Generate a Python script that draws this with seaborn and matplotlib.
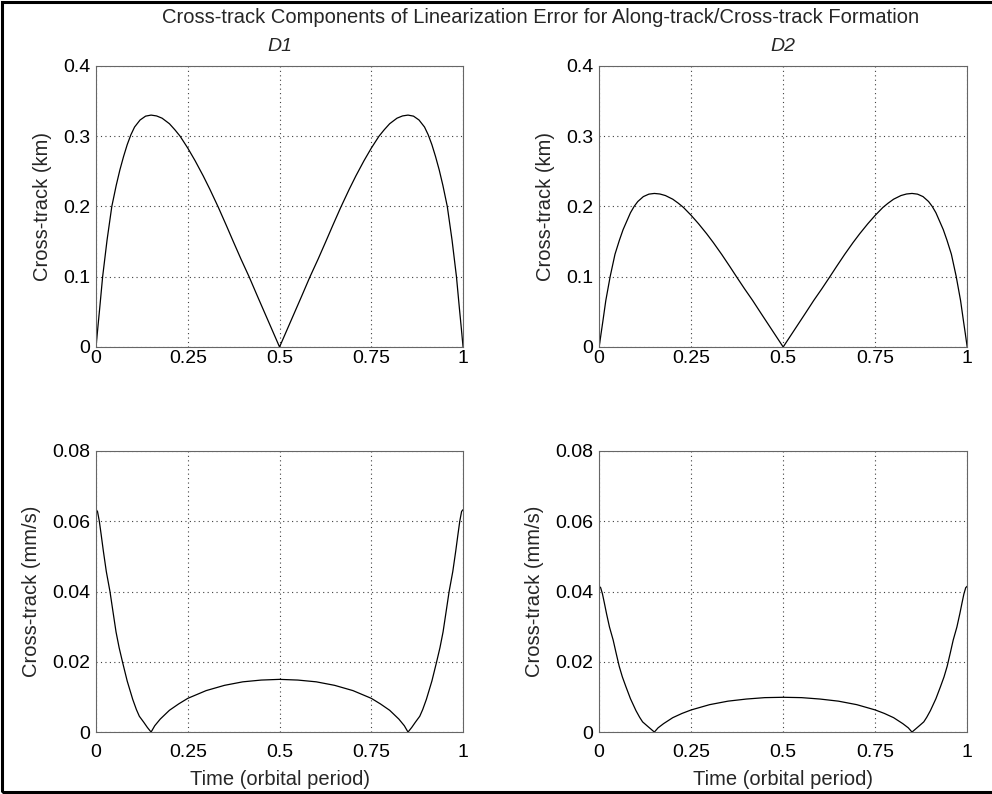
import matplotlib
matplotlib.use("Agg")
import matplotlib.pyplot as plt
import seaborn as sns

# time axis (orbital period) for the position plots
pos_t = [0, 0.005, 0.01, 0.018, 0.03, 0.043, 0.055, 0.065, 0.075, 0.085, 0.095, 0.105,
         0.12, 0.135, 0.15, 0.165, 0.18, 0.2, 0.215, 0.229, 0.25, 0.27, 0.292, 0.31,
         0.333, 0.355, 0.374, 0.395, 0.417, 0.44, 0.46, 0.48, 0.5,
         0.52, 0.54, 0.56, 0.583, 0.605, 0.626, 0.645, 0.667, 0.69, 0.708, 0.73, 0.75,
         0.771, 0.785, 0.8, 0.82, 0.835, 0.85, 0.865, 0.88, 0.895, 0.905, 0.915, 0.925,
         0.935, 0.945, 0.957, 0.97, 0.982, 0.99, 0.995, 1.0]

pos_d1 = [0, 0.028, 0.055, 0.1, 0.152, 0.2, 0.23, 0.252, 0.271, 0.288, 0.302, 0.313,
          0.323, 0.3285, 0.33, 0.3288, 0.3256, 0.3177, 0.309, 0.3, 0.283, 0.265, 0.2435, 0.2246,
          0.199, 0.173, 0.15, 0.125, 0.1, 0.072, 0.048, 0.024, 0,
          0.024, 0.048, 0.072, 0.1, 0.125, 0.15, 0.173, 0.199, 0.2246, 0.2435, 0.265, 0.283,
          0.3, 0.309, 0.3177, 0.3256, 0.3288, 0.33, 0.3285, 0.323, 0.313, 0.302, 0.288, 0.271,
          0.252, 0.23, 0.2, 0.152, 0.1, 0.055, 0.028, 0]

pos_d2 = [0, 0.0185, 0.0364, 0.066, 0.1006, 0.132, 0.152, 0.167, 0.179, 0.191, 0.2, 0.207,
          0.214, 0.2175, 0.2185, 0.2177, 0.2155, 0.2103, 0.2046, 0.1986, 0.1873, 0.1754, 0.1612, 0.1487,
          0.1317, 0.1145, 0.0993, 0.0828, 0.0662, 0.0477, 0.0318, 0.0159, 0,
          0.0159, 0.0318, 0.0477, 0.0662, 0.0828, 0.0993, 0.1145, 0.1317, 0.1487, 0.1612, 0.1754, 0.1873,
          0.1986, 0.2046, 0.2103, 0.2155, 0.2177, 0.2185, 0.2175, 0.214, 0.207, 0.2, 0.191, 0.179,
          0.167, 0.152, 0.132, 0.1006, 0.066, 0.0364, 0.0185, 0]

# time axis for the velocity plots
vel_t = [0, 0.004, 0.009, 0.014, 0.02, 0.028, 0.038, 0.046, 0.0545, 0.063, 0.0727, 0.085,
         0.1, 0.11, 0.118, 0.13, 0.14, 0.15, 0.16, 0.175, 0.2, 0.225, 0.25, 0.3, 0.35,
         0.4, 0.45, 0.5,
         0.55, 0.6, 0.65, 0.7, 0.75, 0.775, 0.8, 0.825, 0.84, 0.85, 0.86, 0.87, 0.882,
         0.89, 0.9, 0.915, 0.9273, 0.937, 0.9455, 0.954, 0.962, 0.972, 0.98, 0.986, 0.991,
         0.996, 1.0]

vel_d1 = [0.0633, 0.0628, 0.06, 0.0562, 0.0515, 0.0457, 0.04, 0.0344, 0.0285, 0.024, 0.0197, 0.0145,
          0.0093, 0.0064, 0.0045, 0.0028, 0.0013, 0, 0.0018, 0.0037, 0.0062, 0.008, 0.0096, 0.0118, 0.0133,
          0.0143, 0.0148, 0.015,
          0.0148, 0.0143, 0.0133, 0.0118, 0.0096, 0.008, 0.0062, 0.0037, 0.0018, 0, 0.0013, 0.0028, 0.0045,
          0.0064, 0.0093, 0.0145, 0.0197, 0.024, 0.0285, 0.0344, 0.04, 0.0457, 0.0515, 0.0562, 0.06,
          0.0628, 0.0633]

vel_d2 = [0.0415, 0.0411, 0.0393, 0.0368, 0.0337, 0.0299, 0.0262, 0.0225, 0.0187, 0.0157, 0.0129, 0.0095,
          0.0061, 0.0042, 0.0029, 0.0018, 0.0009, 0, 0.0012, 0.0024, 0.0041, 0.0053, 0.0063, 0.0078, 0.0088,
          0.0094, 0.0098, 0.0099,
          0.0098, 0.0094, 0.0088, 0.0078, 0.0063, 0.0053, 0.0041, 0.0024, 0.0012, 0, 0.0009, 0.0018, 0.0029,
          0.0042, 0.0061, 0.0095, 0.0129, 0.0157, 0.0187, 0.0225, 0.0262, 0.0299, 0.0337, 0.0368, 0.0393,
          0.0411, 0.0415]

x_ticks = [0, 0.25, 0.5, 0.75, 1]
x_tick_labels = ["0", "0.25", "0.5", "0.75", "1"]
pos_ticks = [0, 0.1, 0.2, 0.3, 0.4]
pos_tick_labels = ["0", "0.1", "0.2", "0.3", "0.4"]
vel_ticks = [0, 0.02, 0.04, 0.06, 0.08]
vel_tick_labels = ["0", "0.02", "0.04", "0.06", "0.08"]

suptitle = "Cross-track Components of Linearization Error for Along-track/Cross-track Formation"

sns.set_style("white")
plt.rcParams["font.family"] = ["Liberation Sans", "DejaVu Sans"]

fig = plt.figure(figsize=(9.92, 7.94), dpi=100)

# axes boxes in figure fractions (left, bottom, width, height)
boxes = {
    "tl": [0.0968, 0.563, 0.370, 0.354],
    "tr": [0.6040, 0.563, 0.371, 0.354],
    "bl": [0.0968, 0.078, 0.370, 0.354],
    "br": [0.6040, 0.078, 0.371, 0.354],
}


def style_axes(ax, yticks, ylabels, ylim, ylabel, xlabel=None):
    ax.set_xlim(0, 1)
    ax.set_ylim(*ylim)
    ax.set_xticks(x_ticks)
    ax.set_xticklabels(x_tick_labels)
    ax.set_yticks(yticks)
    ax.set_yticklabels(ylabels)
    ax.tick_params(axis="both", direction="in", length=3.6, width=0.7,
                   labelsize=14, colors="0.3", labelcolor="black")
    ax.tick_params(axis="y", pad=4)
    ax.grid(True, linestyle=(0, (1, 3)), color="0.25", linewidth=0.8)
    for s in ax.spines.values():
        s.set_color("0.4")
        s.set_linewidth(0.8)
    ax.set_ylabel(ylabel, fontsize=14.5, labelpad=8)
    if xlabel:
        # bottom row: labels sit lower under the axis
        ax.tick_params(axis="x", pad=8.5)
        ax.set_xlabel(xlabel, fontsize=14.5, labelpad=6.5)
    else:
        ax.tick_params(axis="x", pad=2)
        ax.set_xlabel("")


panels = [
    ("tl", pos_t, pos_d1, pos_ticks, pos_tick_labels, (0, 0.4), "Cross-track (km)", None, "D1"),
    ("tr", pos_t, pos_d2, pos_ticks, pos_tick_labels, (0, 0.4), "Cross-track (km)", None, "D2"),
    ("bl", vel_t, vel_d1, vel_ticks, vel_tick_labels, (0, 0.08), "Cross-track (mm/s)",
     "Time (orbital period)", None),
    ("br", vel_t, vel_d2, vel_ticks, vel_tick_labels, (0, 0.08), "Cross-track (mm/s)",
     "Time (orbital period)", None),
]

for key, t, vals, yt, yl, lim, ylab, xlab, title in panels:
    ax = fig.add_axes(boxes[key])
    sns.lineplot(x=t, y=vals, ax=ax, color="black", linewidth=0.9)
    style_axes(ax, yt, yl, lim, ylab, xlab)
    if title:
        ax.set_title(title, fontsize=14, style="italic", pad=11)

fig.text(0.5445, 0.978, suptitle, ha="center", va="center", fontsize=14.5)

# black frame around the figure (right side falls off the canvas)
fig.add_artist(plt.Rectangle((0.002, 0.003), 1.2, 0.995, transform=fig.transFigure,
                             fill=False, edgecolor="black", linewidth=2.2))

fig.savefig("out.png", dpi=100)
